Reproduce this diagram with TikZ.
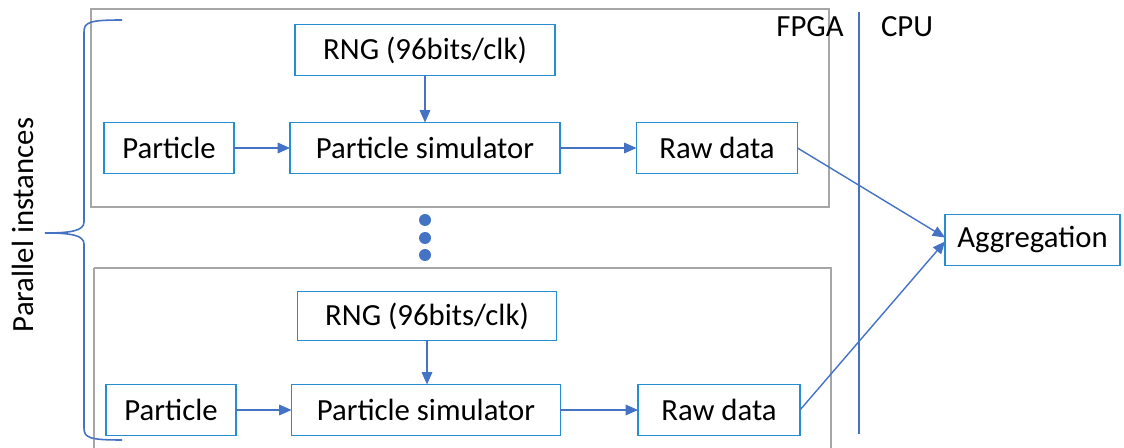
\documentclass[tikz,border=0pt]{standalone}
\usepackage{fontspec}
\setmainfont{Carlito}
\usepackage{tikz}
\usetikzlibrary{arrows.meta, positioning}

\definecolor{boxblue}{RGB}{38,142,208}
\definecolor{linkblue}{RGB}{68,114,196}
\definecolor{framegray}{RGB}{166,166,166}

\begin{document}
\begin{tikzpicture}[
    x=0.02cm, y=-0.02cm,
    font=\fontsize{17.5}{21}\selectfont,
    block/.style={rectangle, draw=boxblue, line width=0.7pt, inner sep=0pt, outer sep=0pt, minimum height=1.02cm},
    frame/.style={draw=framegray, line width=0.9pt},
    arrow/.style={-{Triangle[length=7pt, width=6pt]}, draw=linkblue, line width=0.8pt}
]
\useasboundingbox (0,0) rectangle (1124,448);

% FPGA instance frames
\draw[frame] (91,9) rectangle (829,207);
\draw[frame] (94,268) -- (831,268) -- (831,448);
\draw[frame] (94,268) -- (94,448);

% Upper instance
\node[block, minimum width=5.2cm] (rng1) at (425,50) {RNG (96bits/clk)};
\node[block, minimum width=2.6cm] (part1) at (169,148) {Particle};
\node[block, minimum width=5.4cm] (sim1) at (425,148) {Particle simulator};
\node[block, minimum width=3.22cm] (raw1) at (717,148) {Raw data};

% Lower instance
\node[block, minimum width=5.18cm, minimum height=0.98cm] (rng2) at (427,316) {RNG (96bits/clk)};
\node[block, minimum width=2.6cm] (part2) at (171,410) {Particle};
\node[block, minimum width=5.38cm] (sim2) at (426,410) {Particle simulator};
\node[block, minimum width=3.24cm] (raw2) at (719,410) {Raw data};

% Dots between instances
\foreach \y in {220,238,255}
  \fill[linkblue] (425,\y) circle (6);

% FPGA / CPU split
\draw[linkblue, line width=0.9pt] (859,12) -- (859,434);
\node (fpga) at (810,27) {FPGA};
\node (cpu) at (907,27) {CPU};

% Aggregation
\node[block, minimum width=3.5cm] (agg) at (1032.5,240) {Aggregation};

% Brace
\draw[linkblue, line width=0.9pt] (122,20) .. controls (90,20) and (84,22) .. (84,32)
  -- (84,222) .. controls (84,231) and (70,233) .. (45,233)
  .. controls (70,233) and (84,235) .. (84,244)
  -- (84,428) .. controls (84,438) and (90,440) .. (122,440);
\node[rotate=90] (par) at (23,225) {Parallel instances};

% Arrows
\draw[arrow] (rng1) -- (sim1);
\draw[arrow] (part1) -- (sim1);
\draw[arrow] (sim1) -- (raw1);
\draw[arrow] (rng2.south) -- (rng2.south |- sim2.north);
\draw[arrow] (part2) -- (sim2);
\draw[arrow] (sim2) -- (raw2);
\draw[arrow] (raw1.east) -- ([yshift=0.05cm]agg.west);
\draw[arrow] (raw2.east) -- ([yshift=-0.03cm]agg.west);

\end{tikzpicture}
\end{document}
